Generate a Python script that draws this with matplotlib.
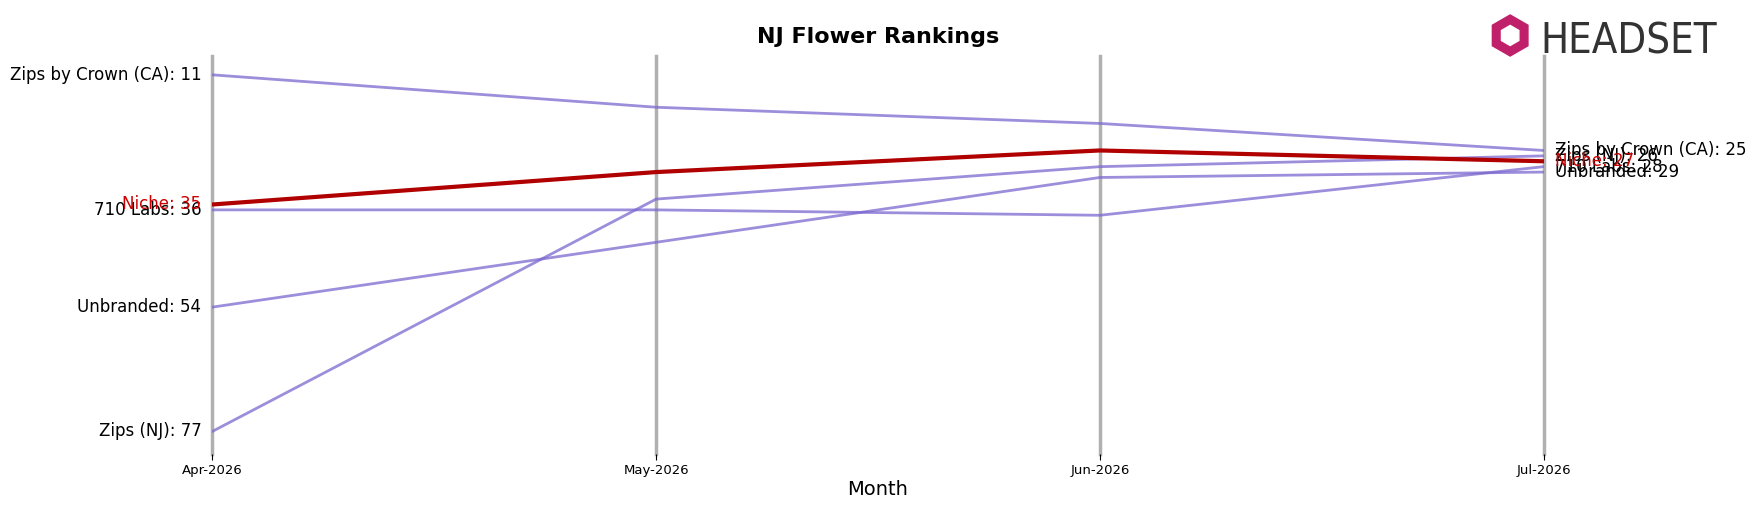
import matplotlib
matplotlib.use("Agg")
import matplotlib.pyplot as plt
from matplotlib.patches import RegularPolygon

months = ["Apr-2026", "May-2026", "Jun-2026", "Jul-2026"]
brands = ["Zips by Crown (CA)", "710 Labs", "Unbranded", "Zips (NJ)", "Niche"]
ranks = {
    "Zips by Crown (CA)": [11, 17, 20, 25],
    "710 Labs": [36, 36, 37, 28],
    "Unbranded": [54, 42, 30, 29],
    "Zips (NJ)": [77, 34, 28, 26],
    "Niche": [35, 29, 25, 27],
}
highlight = "Niche"

fig = plt.figure(figsize=(17.56, 5.07), dpi=100)
ax = fig.add_axes([0.121, 0.105, 0.758, 0.785])
x = list(range(len(months)))
for xi in x:
    ax.axvline(xi, color="#b0b0b0", lw=2.5, zorder=0, clip_on=False)
for b in brands:
    r = ranks[b]
    if b == highlight:
        ax.plot(x, r, color="#b00000", lw=3, zorder=3)
        c = "#cc0000"
    else:
        ax.plot(x, r, color="#7b68d0", lw=2, alpha=0.75, zorder=2)
        c = "black"
    ax.text(-0.025, r[0], f"{b}: {r[0]}", ha="right", va="center", fontsize=12, color=c)
    ax.text(x[-1] + 0.025, r[-1], f"{b}: {r[-1]}", ha="left", va="center", fontsize=12, color=c)

ax.set_ylim(81.15, 7.47)
ax.set_xlim(0, 3)
ax.set_yticks([])
ax.set_xticks(x)
ax.set_xticklabels(months)
ax.tick_params(axis="x", labelsize=9.5, length=4)
for s in ax.spines.values():
    s.set_visible(False)
ax.set_xlabel("Month", fontsize=14, labelpad=2)
fig.text(0.5, 0.915, "NJ Flower Rankings", ha="center", fontsize=16, fontweight="bold")

# logo
lax = fig.add_axes([0.845, 0.885, 0.03, 0.09])
lax.add_patch(RegularPolygon((0.5, 0.5), 6, radius=0.45, color="#c0206a"))
lax.add_patch(RegularPolygon((0.5, 0.5), 6, radius=0.22, color="white"))
lax.set_xlim(0, 1); lax.set_ylim(0, 1); lax.set_aspect("equal"); lax.axis("off")
fig.text(0.877, 0.895, "HEADSET", ha="left", fontsize=30, color="#333333",
         fontstretch="condensed")
fig.savefig("out.png", dpi=100)
